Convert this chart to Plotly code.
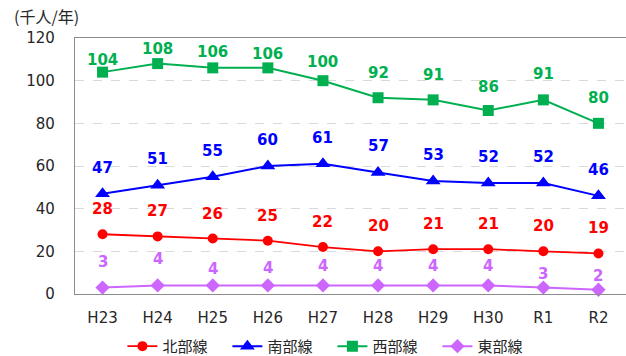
import plotly.graph_objects as go

# Annual ridership by line (thousand people / year)
years = ["H23", "H24", "H25", "H26", "H27", "H28", "H29", "H30", "R1", "R2"]
north = [28, 27, 26, 25, 22, 20, 21, 21, 20, 19]
south = [47, 51, 55, 60, 61, 57, 53, 52, 52, 46]
west = [104, 108, 106, 106, 100, 92, 91, 86, 91, 80]
east = [3, 4, 4, 4, 4, 4, 4, 4, 3, 2]

y_ticks = [0, 20, 40, 60, 80, 100, 120]

FONT = "DejaVu Sans, Noto Sans CJK JP"
CJK = "Noto Sans CJK JP"

series = [
    # name, values, colour, marker symbol, marker size, line width, label lift (px)
    ("北部線", north, "#FF0000", "circle", 10, 1.8, [25] * 10),
    ("南部線", south, "#0000FF", "triangle-up", 13, 2, [26] * 10),
    ("西部線", west, "#00B050", "square", 11, 2, [12, 15, 16, 14, 19, 25, 25, 24, 26, 25]),
    ("東部線", east, "#CC66FF", "diamond", 11, 2, [26, 26, 16, 17, 19, 19, 19, 19, 14, 14]),
]

fig = go.Figure()
annotations = []
for name, vals, color, symbol, msize, lw, lifts in series:
    fig.add_trace(go.Scatter(
        x=years, y=vals, name=name, mode="lines+markers",
        line=dict(color=color, width=lw),
        marker=dict(symbol=symbol, size=msize, color=color),
        cliponaxis=False,
    ))
    for yr, v, lift in zip(years, vals, lifts):
        annotations.append(dict(
            x=yr, y=v, xref="x", yref="y", text=f"<b>{v}</b>", showarrow=False,
            yshift=lift, yanchor="middle", xanchor="center",
            font=dict(family=FONT, size=15, color=color),
        ))

annotations.append(dict(
    text="(千人/年)", xref="paper", yref="paper", x=-63 / 551, y=1.085,
    xanchor="left", yanchor="middle", showarrow=False,
    font=dict(family=CJK, size=16, color="#262626"),
))

fig.update_layout(
    width=626, height=356,
    margin=dict(l=75, r=0, t=38, b=62, autoexpand=False),
    paper_bgcolor="white", plot_bgcolor="white",
    font=dict(family=FONT, size=15, color="#262626"),
    annotations=annotations,
    showlegend=True,
    legend=dict(
        orientation="h", xref="container", yref="container",
        x=0.531, y=0.027, xanchor="center", yanchor="middle",
        font=dict(family=CJK, size=15, color="#262626"),
        entrywidth=60, entrywidthmode="pixels",
        itemwidth=30, bgcolor="rgba(0,0,0,0)",
    ),
    xaxis=dict(
        type="category", range=[-0.5, 9.5], showgrid=False,
        showline=True, linecolor="#8C8C8C", linewidth=1.3, mirror=True,
        ticks="", ticklabelstandoff=10,
        tickfont=dict(family=FONT, size=15, color="#262626"),
    ),
    yaxis=dict(
        range=[0, 120], tickvals=y_ticks, showgrid=True,
        gridcolor="#D9D9D9", griddash="dash", gridwidth=1,
        showline=True, linecolor="#8C8C8C", linewidth=1.3, mirror=True,
        ticks="", ticklabelstandoff=16, zeroline=False,
        tickfont=dict(family=FONT, size=15, color="#262626"),
    ),
)

fig.write_html("out.html")
